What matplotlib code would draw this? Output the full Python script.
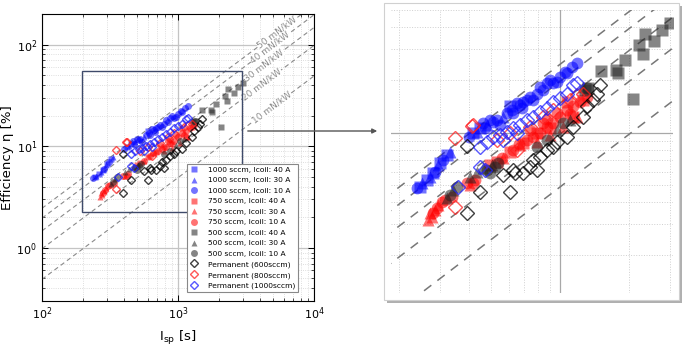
import numpy as np
import matplotlib
matplotlib.use('Agg')
import matplotlib.pyplot as plt
from matplotlib.patches import Rectangle, FancyArrowPatch

# ---- data (Isp [s], efficiency [%]) ----
# 1000 sccm
isp_1000_40 = [246, 263, 281, 301, 322, 420, 449, 606]
eta_1000_40 = [4.93, 5.38, 5.87, 6.69, 7.46, 9.91, 10.6, 14.1]
isp_1000_30 = [250, 272, 296, 333, 434, 480, 567]
eta_1000_30 = [5.15, 5.62, 6.54, 7.80, 10.1, 11.0, 12.3]
isp_1000_10 = [238, 286, 311, 400, 464, 472, 496, 513, 530, 548, 586, 617, 627, 648, 670, 681,
               693, 716, 741, 766, 792, 819, 847, 875, 905, 936, 967, 1000, 1051, 1069, 1124, 1181]
eta_1000_10 = [4.82, 6.00, 6.99, 9.49, 11.3, 10.6, 11.8, 11.5, 11.8, 11.0, 12.9, 13.5, 12.9, 14.7, 14.4, 13.8,
               15.0, 15.3, 16.0, 15.3, 16.7, 18.3, 17.5, 19.1, 19.9, 19.1, 19.5, 20.8, 22.2, 21.8, 23.7, 24.8]

# 750 sccm
isp_750_40 = [496, 530, 606, 693, 792, 905, 1069, 1143, 1263]
eta_750_40 = [6.54, 6.84, 7.80, 8.70, 9.91, 10.6, 15.0, 12.3, 15.3]
isp_750_30 = [267, 277, 272, 286, 296, 406, 567, 670, 792, 905, 1034, 1181]
eta_750_30 = [3.18, 3.32, 3.47, 3.63, 3.87, 5.04, 7.14, 8.51, 8.89, 9.70, 10.8, 12.3]
isp_750_10 = [281, 291, 306, 316, 339, 393, 420, 427, 560, 627, 660, 716, 741, 766, 819, 847,
              875, 880, 936, 967, 1000, 1069, 1100, 1143, 1222, 1306]
eta_750_10 = [3.47, 3.71, 4.05, 4.14, 4.32, 5.15, 5.15, 5.38, 7.2, 7.97, 8.6, 9.08, 10.4, 9.49, 9.91, 11.3,
              10.8, 11.9, 11.3, 12.9, 12.3, 13.5, 12.8, 14.1, 15.0, 16.0]

# 500 sccm
isp_500_40 = [1284, 1328, 1507, 1751, 1793, 1917, 2083, 2213, 2303, 2343, 2563, 2786, 3006]
eta_500_40 = [17.5, 17.9, 22.5, 22.8, 21.8, 25.9, 15.5, 31.5, 27.9, 36.3, 33.3, 38.4, 42.3]
isp_500_30 = [322, 344, 406, 434, 464, 505, 967, 1105, 1263]
eta_500_30 = [4.23, 4.72, 5.62, 6.00, 6.27, 6.54, 10.4, 11.8, 18.3]
isp_500_10 = [333, 356, 480, 496, 521, 539, 792, 875, 1034, 1328]
eta_500_10 = [4.41, 4.93, 6.13, 5.87, 6.40, 6.69, 8.32, 9.08, 11.3, 17.9]

# permanent magnet thruster
isp_perm_600 = [393, 393, 449, 567, 606, 638, 627, 693, 741, 766, 792, 819, 875, 936, 967, 1069,
                1143, 1263, 1306, 1396, 1443, 1492]
eta_perm_600 = [8.40, 3.47, 4.62, 5.74, 4.62, 5.87, 6.13, 5.87, 6.40, 6.99, 6.13, 7.30, 7.97, 8.32, 8.89, 9.49,
                10.8, 12.3, 14.1, 15.3, 16.7, 18.7]
isp_perm_800 = [350, 413, 350, 420, 648, 741, 847, 936, 1105, 1181, 1263, 606, 530]
eta_perm_800 = [9.28, 10.9, 3.79, 11.1, 7.97, 10.8, 12.3, 13.5, 15.3, 16.3, 16.7, 9.91, 9.08]
isp_perm_1000 = [361, 449, 472, 449, 480, 513, 548, 586, 627, 670, 716, 766, 819, 875, 936, 1000,
                 1069, 1143, 1181, 567, 648]
eta_perm_1000 = [4.93, 6.40, 6.13, 8.32, 8.89, 9.49, 9.70, 10.1, 10.6, 11.1, 11.8, 12.3, 13.2, 13.8, 15.0, 15.7,
                 16.7, 18.7, 19.1, 9.08, 9.91]

# thrust-to-power reference lines [mN/kW]
tp_values = [50, 40, 30, 20, 10]
tp_label_isp = [5350, 4745, 4285, 4155, 4910]

G0 = 9.80665


def eta_from_tp(tp, isp):
    # efficiency in % for given thrust-to-power ratio
    return tp * 1e-6 * G0 * np.asarray(isp) / 2 * 100


def draw_points(ax, ms, ms_d):
    filled = [
        (isp_1000_40, eta_1000_40, 's', '#0000ff', '1000 sccm, Icoil: 40 A'),
        (isp_1000_30, eta_1000_30, '^', '#0000ff', '1000 sccm, Icoil: 30 A'),
        (isp_1000_10, eta_1000_10, 'o', '#0000ff', '1000 sccm, Icoil: 10 A'),
        (isp_750_40, eta_750_40, 's', '#ff0000', '750 sccm, Icoil: 40 A'),
        (isp_750_30, eta_750_30, '^', '#ff0000', '750 sccm, Icoil: 30 A'),
        (isp_750_10, eta_750_10, 'o', '#ff0000', '750 sccm, Icoil: 10 A'),
        (isp_500_40, eta_500_40, 's', '#222222', '500 sccm, Icoil: 40 A'),
        (isp_500_30, eta_500_30, '^', '#222222', '500 sccm, Icoil: 30 A'),
        (isp_500_10, eta_500_10, 'o', '#222222', '500 sccm, Icoil: 10 A'),
    ]
    for x, y, m, c, lab in filled:
        ax.plot(x, y, m, color=c, alpha=0.55, ms=ms, mec='none', ls='none', label=lab, zorder=3)
    opened = [
        (isp_perm_600, eta_perm_600, '#000000', 'Permanent (600sccm)'),
        (isp_perm_800, eta_perm_800, '#ff2020', 'Permanent (800sccm)'),
        (isp_perm_1000, eta_perm_1000, '#2020ff', 'Permanent (1000sccm)'),
    ]
    for x, y, c, lab in opened:
        ax.plot(x, y, 'D', mfc='none', mec=c, alpha=0.75, ms=ms_d, mew=1.0, ls='none',
                label=lab, zorder=4)


def create_chart():
    fig = plt.figure(figsize=(6.85, 3.46), dpi=100)

    # ---------------- main log-log plot ----------------
    ax = fig.add_axes([0.0613, 0.130, 0.397, 0.8295])
    ax.set_xscale('log')
    ax.set_yscale('log')
    ax.set_xlim(100, 1e4)
    ax.set_ylim(0.3, 200)

    ax.grid(which='major', color='#c4c4c4', lw=0.9, ls='-', zorder=0)
    ax.grid(which='minor', color='#d4d4d4', lw=0.6, ls=':', zorder=0)
    ax.set_axisbelow(True)

    isp_line = np.array([100, 1e4])
    for tp, xl in zip(tp_values, tp_label_isp):
        ax.plot(isp_line, eta_from_tp(tp, isp_line), color='#8a8a8a', lw=0.8,
                dashes=(4, 3), zorder=2)
        ax.text(xl, eta_from_tp(tp, xl), f'{tp} mN/kW', rotation=37, rotation_mode='anchor',
                ha='center', va='center', fontsize=6.5, color='#8a8a8a', zorder=2.5,
                bbox=dict(facecolor='white', edgecolor='none', pad=0.2))

    draw_points(ax, 5.0, 4.0)

    # zoom box
    ax.add_patch(Rectangle((197, 2.25), 2973 - 197, 55.6 - 2.25, fill=False,
                           edgecolor='#3e4a6a', lw=1.0, zorder=5))

    ax.tick_params(which='both', direction='in', top=True, right=True, labelsize=8)
    ax.tick_params(which='major', length=4, width=0.7)
    ax.tick_params(which='minor', length=2, width=0.5)
    for s in ax.spines.values():
        s.set_linewidth(0.8)
    ax.set_xlabel(r'$\mathregular{I_{sp}}$ [s]', fontsize=9.5, labelpad=5)
    ax.set_ylabel('Efficiency η [%]', fontsize=9.5, labelpad=2)

    leg = ax.legend(loc='lower left', bbox_to_anchor=(0.533, 0.031), fontsize=5.4,
                    frameon=True, fancybox=False, edgecolor='#888888', framealpha=1,
                    borderpad=0.35, labelspacing=0.56, handletextpad=1.2, handlelength=1.2,
                    borderaxespad=0, markerscale=1.0)
    leg.get_frame().set_linewidth(0.8)
    leg.set_zorder(6)

    # ---------------- zoomed panel ----------------
    # shadow and frame
    fx, fy, fw, fh = 384 / 685, 1 - 300 / 346, 295 / 685, 297 / 346
    shadow = Rectangle((fx + 3 / 685, fy - 3 / 346), fw, fh, transform=fig.transFigure,
                       facecolor='#b0b0b0', edgecolor='none', zorder=-2)
    frame = Rectangle((fx, fy), fw, fh, transform=fig.transFigure,
                      facecolor='white', edgecolor='#d0d0d0', lw=0.8, zorder=-1)
    fig.add_artist(shadow)
    fig.add_artist(frame)

    ax2 = fig.add_axes([391 / 685, 1 - 293 / 346, 282 / 685, 283 / 346])
    ax2.set_xscale('log')
    ax2.set_yscale('log')
    ax2.set_xlim(184, 3100)
    ax2.set_ylim(1.22, 50)
    ax2.patch.set_alpha(0)
    ax2.grid(which='major', color='#a8a8a8', lw=0.9, ls='-', zorder=0)
    ax2.grid(which='minor', color='#cfcfcf', lw=0.7, ls=':', zorder=0)
    ax2.set_axisbelow(True)
    for s in ax2.spines.values():
        s.set_visible(False)
    ax2.tick_params(which='both', length=0, labelbottom=False, labelleft=False)

    isp_line2 = np.array([150, 4000])
    for tp in tp_values:
        ax2.plot(isp_line2, eta_from_tp(tp, isp_line2), color='#777777', lw=1.1,
                 dashes=(6, 5), zorder=2)

    draw_points(ax2, 8.5, 7.0)

    # arrow from zoom box to panel
    arrow = FancyArrowPatch((245 / 685, 1 - 131 / 346), (380 / 685, 1 - 131 / 346),
                            transform=fig.transFigure, arrowstyle='-|>', mutation_scale=7,
                            color='#555555', lw=1.0, zorder=10)
    fig.add_artist(arrow)

    fig.savefig('out.png', dpi=100)
    print("Chart saved as 'out.png'")


if __name__ == "__main__":
    create_chart()
